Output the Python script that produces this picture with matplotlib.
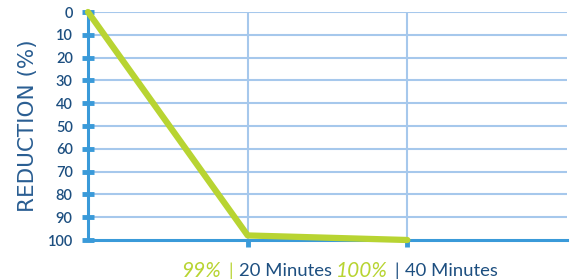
import matplotlib.pyplot as plt

# data
minutes = [0, 20, 40]
reduction = [0, 98, 100]
y_ticks = [0, 10, 20, 30, 40, 50, 60, 70, 80, 90, 100]
pct_labels = ["99%", "100%"]
time_labels = ["20 Minutes", "40 Minutes"]

blue = "#3a9ad9"
grid_blue = "#a6c8ec"
text_blue = "#1d4f80"
green = "#b8d432"

plt.rcParams['font.family'] = ['Lato', 'DejaVu Sans']

fig = plt.figure(figsize=(5.77, 2.80), dpi=100)
ax = fig.add_axes([88 / 577, 40 / 280, (567 - 88) / 577, (240 - 12) / 280])

ax.set_xlim(0, 60)
ax.set_ylim(100, 0)

# grid
for t in y_ticks[:-1]:
    ax.axhline(t, color=grid_blue, lw=1.5, zorder=1)
for m in minutes[1:]:
    ax.axvline(m, color=grid_blue, lw=1.5, zorder=1)

ax.plot(minutes, reduction, color=green, lw=4.5, solid_capstyle='round',
        solid_joinstyle='round', zorder=3, clip_on=False)

for s in ['top', 'right']:
    ax.spines[s].set_visible(False)
ax.spines['left'].set_color(blue)
ax.spines['left'].set_linewidth(2.2)
ax.spines['bottom'].set_color(blue)
ax.spines['bottom'].set_linewidth(2.2)
ax.spines['bottom'].set_zorder(2)

ax.set_yticks(y_ticks)
ax.set_yticklabels([str(t) for t in y_ticks], color=text_blue, fontsize=10.5,
                   fontweight='semibold')
ax.tick_params(axis='y', length=8, width=3.5, color=blue, direction='inout', pad=7)

ax.set_xticks(minutes[1:])
ax.set_xticklabels([])
ax.tick_params(axis='x', length=5, width=3.5, color=blue, direction='out')

ax.set_ylabel("REDUCTION (%)", color="#2a5e92", fontsize=15.5, family='DejaVu Sans',
              labelpad=7)

# bottom caption pieces: offsets (points) of pct right edge, bar, minutes left edge
offsets = [(-19.4, -12.2, -6.5), (-14.0, -7.8, -2.0)]
bar_colors = [green, text_blue]
for m, p, t, off, bc in zip(minutes[1:], pct_labels, time_labels, offsets, bar_colors):
    ax.annotate(p, xy=(m, 0), xycoords=('data', 'axes fraction'), xytext=(off[0], -22),
                textcoords='offset points', ha='right', va='center', color=green,
                fontsize=15, style='italic')
    ax.annotate("|", xy=(m, 0), xycoords=('data', 'axes fraction'), xytext=(off[1], -22),
                textcoords='offset points', ha='center', va='center', color=bc,
                fontsize=12.5)
    ax.annotate(t, xy=(m, 0), xycoords=('data', 'axes fraction'), xytext=(off[2], -22),
                textcoords='offset points', ha='left', va='center', color=text_blue,
                fontsize=13.3)

fig.savefig("out.png", dpi=100)
